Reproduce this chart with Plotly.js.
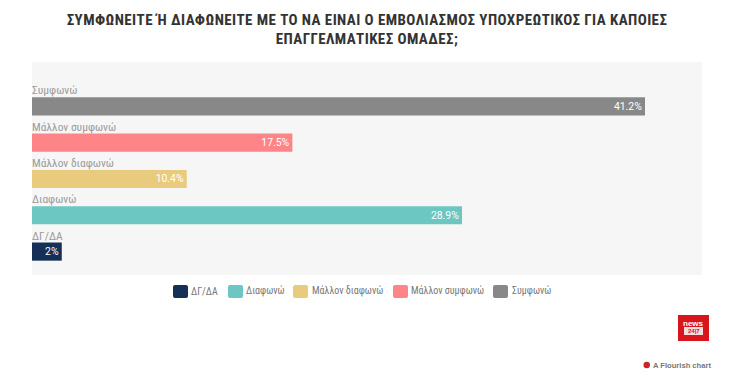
<!DOCTYPE html>
<html><head><meta charset="utf-8">
<script src="https://cdn.plot.ly/plotly-3.0.1.min.js"></script>
<style>html,body{margin:0;padding:0;background:#fff}#c{width:734px;height:380px}
svg text{font-stretch:75%}
svg .gtitle{letter-spacing:.42px}
svg .bartext{font-stretch:100%}</style>
</head><body><div id="c"></div>
<script>
var categories = ['Συμφωνώ','Μάλλον συμφωνώ','Μάλλον διαφωνώ','Διαφωνώ','ΔΓ/ΔΑ'];
var values = [41.2,17.5,10.4,28.9,2];
var colors = ['#888888','#fd8588','#e9cb7d','#6cc6c2','#152f57'];
var titleLines = 'ΣΥΜΦΩΝΕΙΤΕ Ή ΔΙΑΦΩΝΕΙΤΕ ΜΕ ΤΟ ΝΑ ΕΙΝΑΙ Ο ΕΜΒΟΛΙΑΣΜΟΣ ΥΠΟΧΡΕΩΤΙΚΟΣ ΓΙΑ ΚΑΠΟΙΕΣ<br>ΕΠΑΓΓΕΛΜΑΤΙΚΕΣ ΟΜΑΔΕΣ;';
var legendOrder = [4,3,2,1,0];
var legendSwatchX = [173,228,293,393,493];
var legendTextX = [190,245,311,410,511];

function px(x){return (x-32)/670;}
function py(y){return 1-(y-62)/213;}
function roundRect(x0,y0,x1,y1,r){
  var P=function(a,b){return px(a)+','+py(b);};
  return 'M'+P(x0+r,y0)+' L'+P(x1-r,y0)+' Q'+P(x1,y0)+' '+P(x1,y0+r)+' L'+P(x1,y1-r)+' Q'+P(x1,y1)+' '+P(x1-r,y1)+
    ' L'+P(x0+r,y1)+' Q'+P(x0,y1)+' '+P(x0,y1-r)+' L'+P(x0,y0+r)+' Q'+P(x0,y0)+' '+P(x0+r,y0)+' Z';
}

var traces = categories.map(function(c,i){
  return {type:'bar',orientation:'h',name:c,y:[c],x:[values[i]],width:0.5,
    marker:{color:colors[i],line:{width:0}},
    text:[values[i]+'%'],textposition:'inside',insidetextanchor:'end',textangle:0,
    insidetextfont:{family:'Roboto',size:12,color:'#ffffff'},
    cliponaxis:false,hoverinfo:'skip',showlegend:false};
}).reverse();

var ann = categories.map(function(c){
  return {xref:'x',yref:'y',x:0,y:c,text:c,showarrow:false,xanchor:'left',yanchor:'bottom',borderpad:0,
    xshift:-1,yshift:8,align:'left',font:{family:'Roboto',size:11.5,color:'#9a9a9a'}};
});
var shapes = [];
legendOrder.forEach(function(k,j){
  shapes.push({type:'path',xref:'paper',yref:'paper',path:roundRect(legendSwatchX[j],285,legendSwatchX[j]+15,298,2),
    fillcolor:colors[k],line:{width:0}});
  ann.push({xref:'paper',yref:'paper',x:px(legendTextX[j]),y:py(291),text:categories[k],showarrow:false,borderpad:0,
    xanchor:'left',yanchor:'middle',font:{family:'Roboto',size:10,color:'#777'}});
});
ann.push({xref:'paper',yref:'paper',x:px(712),y:py(365),text:'A Flourish chart',showarrow:false,borderpad:0,
  xanchor:'right',yanchor:'middle',font:{family:'Liberation Sans',size:7.6,color:'#777',weight:'bold'}});
ann.push({xref:'paper',yref:'paper',x:px(693.5),y:py(323),text:'news',showarrow:false,borderpad:0,xanchor:'center',yanchor:'middle',
  font:{family:'Liberation Sans',size:8,color:'#fff',weight:'bold'}});
ann.push({xref:'paper',yref:'paper',x:px(693.5),y:py(331),text:'24|7',showarrow:false,borderpad:0,xanchor:'center',yanchor:'middle',
  font:{family:'Liberation Sans',size:6,color:'#d8141c',weight:'bold'}});
shapes.push({type:'rect',xref:'paper',yref:'paper',x0:px(678),x1:px(709),y0:py(315),y1:py(341),fillcolor:'#d8141c',line:{width:0}});
shapes.push({type:'rect',xref:'paper',yref:'paper',x0:px(684),x1:px(703),y0:py(327),y1:py(335),fillcolor:'#f7dada',line:{width:0}});
shapes.push({type:'circle',xref:'paper',yref:'paper',x0:px(643.5),x1:px(650),y0:py(361.7),y1:py(368.3),fillcolor:'#c8262c',line:{width:0}});

var layout = {
  width:734,height:380,autosize:false,
  paper_bgcolor:'#ffffff',plot_bgcolor:'#f6f6f6',
  margin:{l:32,r:32,t:62,b:105,pad:0},
  barmode:'overlay',showlegend:false,
  title:{text:titleLines,x:0.5,xanchor:'center',y:0.935,yanchor:'top',
    font:{family:'Roboto',size:15,color:'#333333',weight:'bold'}},
  xaxis:{range:[0,45.03],visible:false,fixedrange:true},
  yaxis:{type:'category',categoryorder:'array',categoryarray:categories,range:[4.645,-1.223],visible:false,fixedrange:true},
  annotations:ann,
  shapes:shapes
};
Plotly.newPlot('c',traces,layout,{displayModeBar:false,staticPlot:true});
</script></body></html>
